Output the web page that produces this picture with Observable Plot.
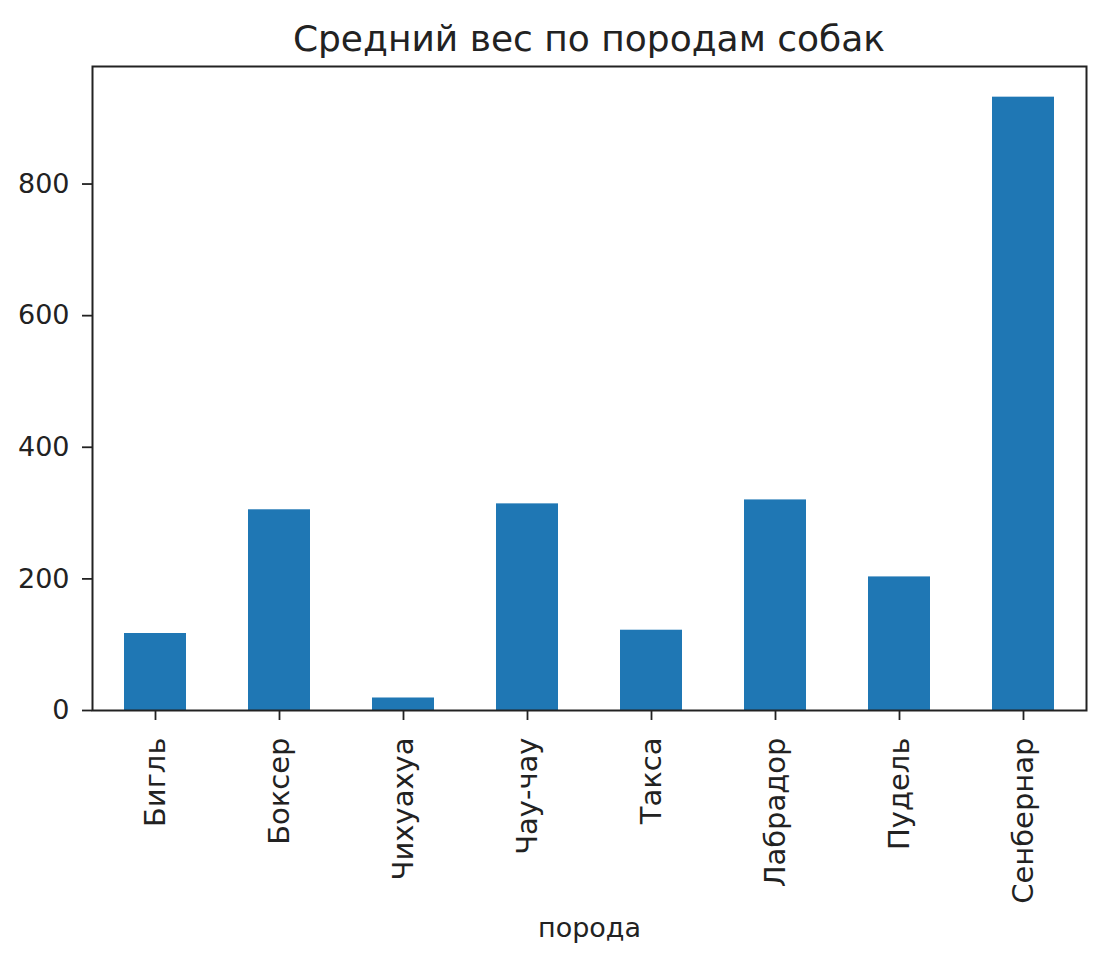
<!DOCTYPE html>
<html>
<head>
<meta charset="utf-8">
<script src="https://cdn.jsdelivr.net/npm/d3@7"></script>
<script src="https://cdn.jsdelivr.net/npm/@observablehq/plot@0.6"></script>
<style>
  body { margin: 0; background: #fff; }
  #wrap { width: 1096px; font-family: "DejaVu Sans", sans-serif; color: #222; }
  #title { height: 64px; box-sizing: border-box; padding-top: 21px; padding-left: 82px;
           text-align: center; font-size: 36px; line-height: 1; white-space: nowrap; }
</style>
</head>
<body>
<div id="wrap">
  <div id="title">Средний вес по породам собак</div>
  <div id="chart"></div>
</div>
<script>
const breeds = ["Бигль", "Боксер", "Чихуахуа", "Чау-чау", "Такса", "Лабрадор", "Пудель", "Сенбернар"];
const weights = [117, 305, 19, 314, 122, 320, 203, 932];
const yTicks = [0, 200, 400, 600, 800];
const xLabel = "порода";

const data = breeds.map((b, i) => ({breed: b, weight: weights[i]}));
const yMax = d3.max(weights) * 1.05;

const chart = Plot.plot({
  width: 1096,
  height: 896,
  marginTop: 2,
  marginLeft: 92,
  marginRight: 10,
  marginBottom: 250,
  style: {fontFamily: "DejaVu Sans, sans-serif", color: "#222", background: "white"},
  x: {domain: breeds, paddingInner: 0.5, paddingOuter: 0.25},
  y: {domain: [0, yMax]},
  marks: [
    Plot.barY(data, {x: "breed", y: "weight", fill: "#1f77b4"}),
    Plot.axisY({ticks: yTicks, tickSize: 10, tickPadding: 13, fontSize: 27, label: null, strokeWidth: 1.8, color: "#222"}),
    Plot.axisX({tickRotate: -90, tickSize: 10, tickPadding: 17, fontSize: 29, label: null, strokeWidth: 1.8, color: "#222"}),
    Plot.frame({stroke: "#222", strokeWidth: 2}),
    Plot.text([xLabel], {text: d => d, frameAnchor: "bottom", dy: 226, fontSize: 27, fill: "#222"})
  ]
});
document.getElementById("chart").appendChild(chart);
</script>
</body>
</html>
